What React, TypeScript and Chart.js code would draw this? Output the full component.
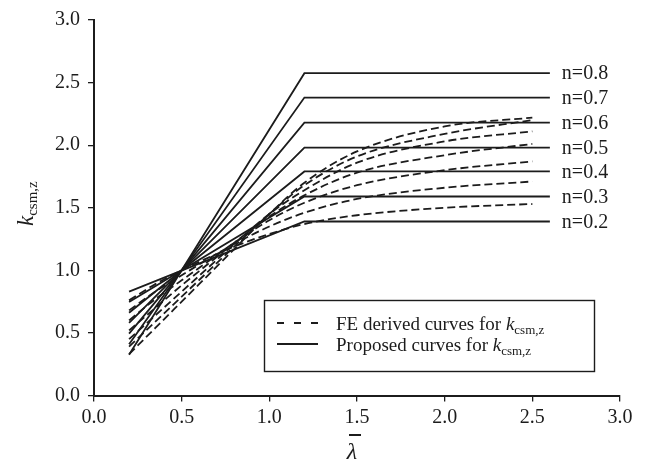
import React, { useEffect, useRef } from "react";
import { Chart, registerables } from "chart.js";

Chart.register(...registerables);

// ---- data ----
const nLabels = ["n=0.2", "n=0.3", "n=0.4", "n=0.5", "n=0.6", "n=0.7", "n=0.8"];

// Proposed (solid) curves: x positions and values
const proposedX = [0.2, 1.2, 2.6];
const proposedStart = [0.83, 0.747, 0.661, 0.58, 0.494, 0.409, 0.325];
const proposedPlateau = [1.39, 1.59, 1.79, 1.98, 2.18, 2.38, 2.575];

// FE derived (dashed) curves
const feX = [0.2, 0.35, 0.5, 0.65, 0.8, 1.0, 1.2, 1.5, 2.0, 2.5];
const feN02 = [0.76, 0.89, 1.0, 1.1, 1.19, 1.29, 1.37, 1.44, 1.5, 1.53];
const feN03 = [0.68, 0.83, 0.96, 1.09, 1.21, 1.35, 1.46, 1.57, 1.66, 1.71];
const feN04 = [0.6, 0.77, 0.92, 1.07, 1.22, 1.4, 1.54, 1.68, 1.8, 1.87];
const feN05 = [0.52, 0.7, 0.88, 1.05, 1.22, 1.43, 1.6, 1.78, 1.92, 2.01];
const feN06 = [0.45, 0.64, 0.83, 1.02, 1.21, 1.45, 1.64, 1.86, 2.03, 2.11];
const feN07 = [0.39, 0.59, 0.79, 0.99, 1.19, 1.45, 1.68, 1.91, 2.09, 2.2];
const feN08 = [0.33, 0.54, 0.75, 0.96, 1.17, 1.45, 1.7, 1.95, 2.15, 2.22];
const feSeries = [feN02, feN03, feN04, feN05, feN06, feN07, feN08];

const xTicks = [0, 0.5, 1.0, 1.5, 2.0, 2.5, 3.0];
const yTicks = [0, 0.5, 1.0, 1.5, 2.0, 2.5, 3.0];

const legendFE = "FE derived curves for ";
const legendProp = "Proposed curves for ";
const kSub = "csm,z";

const SERIF = '"Liberation Serif", "Times New Roman", serif';
const INK = "#1c1c1c";

const overlayPlugin = {
  id: "overlay",
  afterDraw(chart: any) {
    const ctx = chart.ctx as CanvasRenderingContext2D;
    const xs = chart.scales.x;
    const ys = chart.scales.y;
    ctx.save();
    ctx.fillStyle = INK;
    ctx.strokeStyle = INK;

    // n labels
    ctx.font = `20px ${SERIF}`;
    ctx.textAlign = "left";
    ctx.textBaseline = "middle";
    const lx = xs.getPixelForValue(proposedX[proposedX.length - 1]) + 12;
    nLabels.forEach((t, i) => {
      ctx.fillText(t, lx, ys.getPixelForValue(proposedPlateau[i]) + 1);
    });

    // legend box
    const bx = 264, by = 300, bw = 330, bh = 71;
    ctx.fillStyle = "#ffffff";
    ctx.fillRect(bx, by, bw, bh);
    ctx.fillStyle = INK;
    ctx.lineWidth = 1.4;
    ctx.strokeRect(bx + 0.5, by + 0.5, bw, bh);

    const drawKText = (label: string, x: number, y: number) => {
      ctx.textBaseline = "alphabetic";
      ctx.textAlign = "left";
      ctx.font = `19px ${SERIF}`;
      ctx.fillText(label, x, y);
      let cx = x + ctx.measureText(label).width;
      ctx.font = `italic 19px ${SERIF}`;
      ctx.fillText("k", cx, y);
      cx += ctx.measureText("k").width;
      ctx.font = `13px ${SERIF}`;
      ctx.fillText(kSub, cx, y + 4);
    };

    // dashed sample
    ctx.lineWidth = 1.8;
    ctx.setLineDash([7, 10]);
    ctx.beginPath();
    ctx.moveTo(277, 323);
    ctx.lineTo(318, 323);
    ctx.stroke();
    ctx.setLineDash([]);
    ctx.beginPath();
    ctx.moveTo(277, 344);
    ctx.lineTo(318, 344);
    ctx.stroke();
    drawKText(legendFE, 336, 329.5);
    drawKText(legendProp, 336, 350.5);

    // y-axis title (rotated)
    ctx.save();
    ctx.translate(33, 226);
    ctx.rotate(-Math.PI / 2);
    ctx.textAlign = "left";
    ctx.textBaseline = "alphabetic";
    ctx.font = `italic 23px ${SERIF}`;
    ctx.fillText("k", 0, 0);
    const kw = ctx.measureText("k").width;
    ctx.font = `15px ${SERIF}`;
    ctx.fillText(kSub, kw, 4);
    ctx.restore();

    // x-axis title: lambda with bar
    ctx.font = `italic 24px ${SERIF}`;
    ctx.textAlign = "center";
    ctx.textBaseline = "alphabetic";
    ctx.fillText("λ", 352, 459);
    ctx.lineWidth = 2;
    ctx.beginPath();
    ctx.moveTo(349, 435);
    ctx.lineTo(361, 435);
    ctx.stroke();

    ctx.restore();
  },
};

export default function App() {
  const ref = useRef<HTMLCanvasElement>(null);
  useEffect(() => {
    if (!ref.current) return;
    const datasets: any[] = [];
    feSeries.forEach((vals, i) => {
      datasets.push({
        label: "FE " + nLabels[i],
        data: feX.map((x, j) => ({ x, y: vals[j] })),
        borderColor: INK,
        borderWidth: 1.8,
        borderDash: [8, 4],
        pointRadius: 0,
        fill: false,
        cubicInterpolationMode: "monotone",
      });
    });
    proposedPlateau.forEach((p, i) => {
      const ys = [proposedStart[i], p, p];
      datasets.push({
        label: "Proposed " + nLabels[i],
        data: proposedX.map((x, j) => ({ x, y: ys[j] })),
        borderColor: INK,
        borderWidth: 1.8,
        pointRadius: 0,
        fill: false,
        tension: 0,
      });
    });

    const tickFont = { family: SERIF, size: 20 };
    const chart = new Chart(ref.current, {
      type: "line",
      data: { datasets },
      plugins: [overlayPlugin],
      options: {
        animation: false,
        responsive: false,
        devicePixelRatio: 1,
        layout: { padding: { top: 17.5, right: 28, left: 0, bottom: 0 } },
        plugins: { legend: { display: false }, tooltip: { enabled: false } },
        scales: {
          x: {
            type: "linear",
            min: 0,
            max: 3,
            afterBuildTicks: (s: any) => {
              s.ticks = xTicks.map((v) => ({ value: v }));
            },
            ticks: {
              color: INK,
              font: tickFont,
              padding: 4,
              maxRotation: 0,
              callback: (v: any) => Number(v).toFixed(1),
            },
            grid: {
              drawOnChartArea: false,
              drawTicks: true,
              tickLength: 6,
              color: INK,
              lineWidth: 1.3,
            },
            border: { display: true, color: INK, width: 2 },
            afterFit: (s: any) => {
              s.height = 68.5;
            },
          },
          y: {
            type: "linear",
            min: 0,
            max: 3,
            afterBuildTicks: (s: any) => {
              s.ticks = yTicks.map((v) => ({ value: v }));
            },
            ticks: {
              color: INK,
              font: tickFont,
              padding: 8,
              callback: (v: any) => Number(v).toFixed(1),
            },
            grid: {
              drawOnChartArea: false,
              drawTicks: true,
              tickLength: 6,
              color: INK,
              lineWidth: 1.3,
            },
            border: { display: true, color: INK, width: 2 },
            afterFit: (s: any) => {
              s.width = 94;
            },
          },
        },
      } as any,
    });
    return () => chart.destroy();
  }, []);

  return (
    <div style={{ position: "fixed", left: 0, top: 0, width: 648, height: 464, background: "#fff" }}>
      <canvas ref={ref} width={648} height={464} style={{ width: 648, height: 464, display: "block" }} />
    </div>
  );
}
